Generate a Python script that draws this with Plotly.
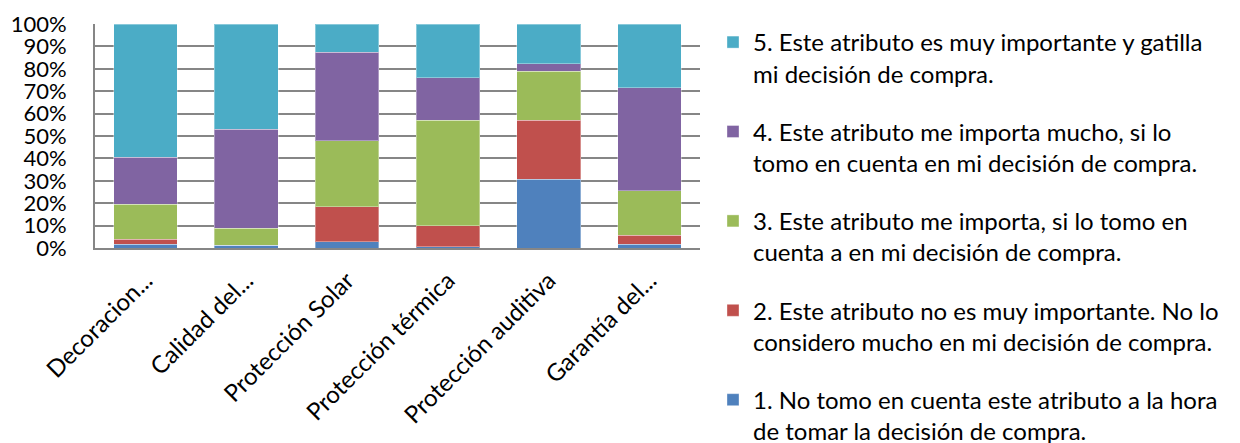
import plotly.graph_objects as go

categories = ["Decoracion...", "Calidad del...", "Protección Solar",
              "Protección térmica", "Protección auditiva", "Garantía del..."]

series_names = [
    "1. No tomo en cuenta este atributo a la hora<br>de tomar la decisión de compra.",
    "2. Este atributo no es muy importante. No lo<br>considero mucho en mi decisión de compra.",
    "3. Este atributo me importa, si lo tomo en<br>cuenta a en mi decisión de compra.",
    "4. Este atributo me importa mucho, si lo<br>tomo en cuenta en mi decisión de compra.",
    "5. Este atributo es muy importante y gatilla<br>mi decisión de compra.",
]

v1 = [1.6, 1.3, 2.7, 0.6, 30.8, 1.6]
v2 = [2.3, 0.0, 15.7, 9.4, 26.2, 4.1]
v3 = [15.7, 7.6, 29.4, 47.0, 22.0, 19.9]
v4 = [20.9, 44.1, 39.7, 18.9, 3.3, 46.0]
v5 = [59.5, 47.0, 12.5, 24.1, 17.7, 28.4]

colors = ["#4F81BD", "#C0504D", "#9BBB59", "#8064A2", "#4BACC6"]

FONT = "Lato, 'Open Sans', sans-serif"

fig = go.Figure()
for i, (name, vals) in enumerate(zip(series_names, [v1, v2, v3, v4, v5])):
    fig.add_trace(go.Bar(
        x=categories, y=[v / 100 for v in vals], name=name,
        marker=dict(color=colors[i], line=dict(color="rgba(255,255,255,0.35)", width=1)),
        legendgroup=f"g{i}",
        legendrank=10 - i,
    ))

fig.update_layout(
    barmode="stack",
    bargap=0.37,
    width=1240, height=443,
    margin=dict(l=95, r=540, t=24, b=195, autoexpand=False),
    paper_bgcolor="white", plot_bgcolor="white",
    font=dict(family=FONT, size=20, color="black"),
    showlegend=True,
    legend=dict(
        x=1.0 + 13 / 605, xanchor="left", xref="paper",
        y=1.0 + 4 / 224, yanchor="top",
        traceorder="grouped", tracegroupgap=24, valign="top",
        font=dict(family=FONT, size=24, color="black"),
        itemwidth=30,
        maxheight=600,
        bgcolor="rgba(0,0,0,0)",
    ),
    yaxis=dict(
        range=[0, 1], tickformat=".0%", dtick=0.1, tick0=0,
        showgrid=True, gridcolor="#868686", gridwidth=2,
        showline=True, linecolor="#868686", linewidth=2,
        ticks="", ticklabelstandoff=22,
        zeroline=False,
        tickfont=dict(family=FONT, size=22, color="black"),
    ),
    xaxis=dict(
        showline=True, linecolor="#868686", linewidth=2,
        tickangle=-45,
        ticks="outside", ticklen=7, tickcolor="rgba(0,0,0,0)",
        tickfont=dict(family=FONT, size=24, color="black"),
    ),
)

fig.write_html("out.html")
